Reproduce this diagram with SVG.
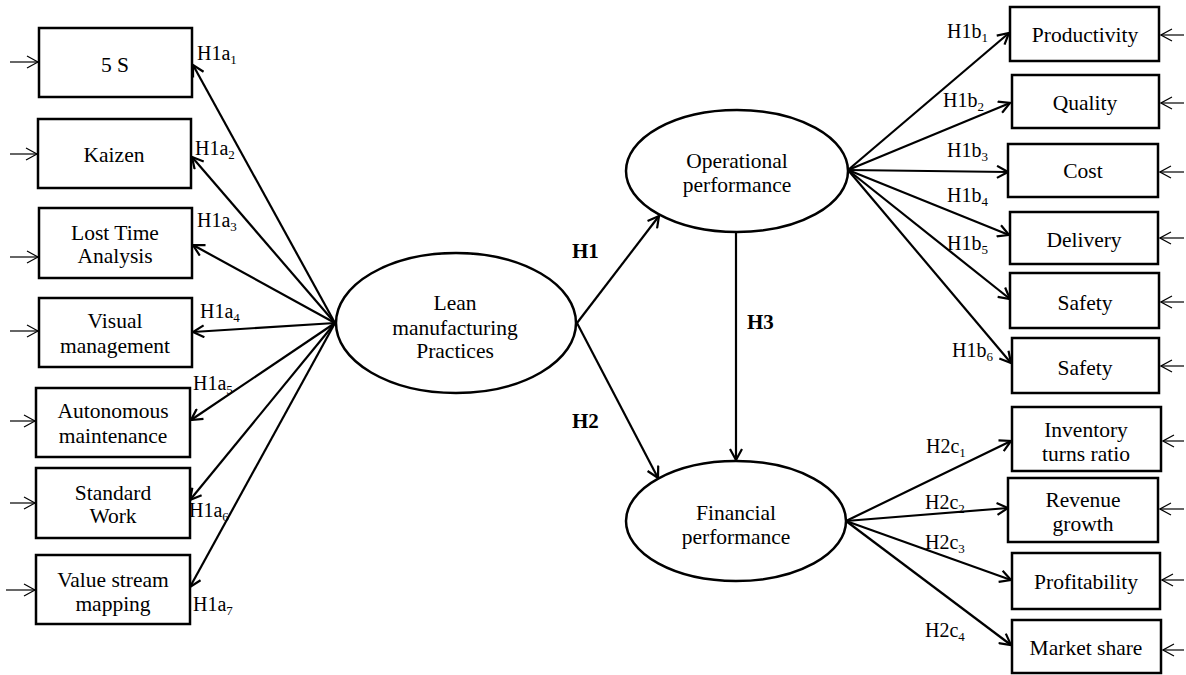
<svg xmlns="http://www.w3.org/2000/svg" width="1186" height="675" viewBox="0 0 1186 675">
<style>
.box{fill:#fff;stroke:#000;stroke-width:2.5}
.ell{fill:#fff;stroke:#000;stroke-width:2.5}
.t{font-family:"Liberation Serif","Times New Roman",serif;font-size:21.5px;fill:#000;text-anchor:middle}
.lb{font-family:"Liberation Serif","Times New Roman",serif;font-size:20px;fill:#000}
.hb{font-family:"Liberation Serif","Times New Roman",serif;font-size:21px;font-weight:bold;fill:#000}
.c{stroke:#000;stroke-width:2.2;fill:none;marker-end:url(#ah)}
.in{stroke:#000;stroke-width:1.2;fill:none;marker-end:url(#ahs)}
</style>
<defs>
<marker id="ah" markerUnits="userSpaceOnUse" markerWidth="14" markerHeight="14" viewBox="-1 -1 13 14" refX="11" refY="6" orient="auto">
<path d="M0,0 L11,6 L0,12" fill="none" stroke="#000" stroke-width="2.2"/>
</marker>
<marker id="ahs" markerUnits="userSpaceOnUse" markerWidth="14" markerHeight="14" viewBox="-1 -1 13 14" refX="11" refY="6" orient="auto">
<path d="M0,0 L11,6 L0,12" fill="none" stroke="#000" stroke-width="1.2"/>
</marker>
</defs>
<rect width="1186" height="675" fill="#fff"/>

<g id="connectors">
<!-- left inputs -->
<line class="in" x1="10" y1="62" x2="38" y2="62"/>
<line class="in" x1="10" y1="154" x2="37" y2="154"/>
<line class="in" x1="10" y1="257" x2="38" y2="257"/>
<line class="in" x1="10" y1="331" x2="38" y2="331"/>
<line class="in" x1="10" y1="421" x2="35" y2="421"/>
<line class="in" x1="10" y1="503" x2="35" y2="503"/>
<line class="in" x1="6" y1="590" x2="35" y2="590"/>
<!-- right inputs -->
<line class="in" x1="1184" y1="35" x2="1161" y2="35"/>
<line class="in" x1="1184" y1="103" x2="1161" y2="103"/>
<line class="in" x1="1184" y1="172" x2="1160" y2="172"/>
<line class="in" x1="1184" y1="238" x2="1160" y2="238"/>
<line class="in" x1="1184" y1="302" x2="1161" y2="302"/>
<line class="in" x1="1184" y1="366" x2="1161" y2="366"/>
<line class="in" x1="1184" y1="441" x2="1163" y2="441"/>
<line class="in" x1="1184" y1="509" x2="1160" y2="509"/>
<line class="in" x1="1184" y1="580" x2="1162" y2="580"/>
<line class="in" x1="1184" y1="650" x2="1163" y2="650"/>
<!-- Lean to indicators -->
<line class="c" x1="335" y1="323" x2="193" y2="65"/>
<line class="c" x1="335" y1="323" x2="192" y2="157"/>
<line class="c" x1="335" y1="323" x2="193" y2="245"/>
<line class="c" x1="335" y1="323" x2="193" y2="332"/>
<line class="c" x1="335" y1="323" x2="191" y2="420"/>
<line class="c" x1="335" y1="323" x2="190" y2="500"/>
<line class="c" x1="335" y1="323" x2="190" y2="587"/>
<!-- structural paths -->
<line class="c" x1="577" y1="323" x2="659" y2="216"/>
<line class="c" x1="577" y1="323" x2="658" y2="478"/>
<line class="c" x1="736" y1="232" x2="736" y2="460"/>
<!-- Operational to indicators -->
<line class="c" x1="848" y1="170" x2="1009" y2="33"/>
<line class="c" x1="848" y1="170" x2="1010" y2="103"/>
<line class="c" x1="848" y1="170" x2="1008" y2="172"/>
<line class="c" x1="848" y1="170" x2="1009" y2="235"/>
<line class="c" x1="848" y1="170" x2="1010" y2="299"/>
<line class="c" x1="848" y1="170" x2="1011" y2="363"/>
<!-- Financial to indicators -->
<line class="c" x1="846" y1="521" x2="1011" y2="441"/>
<line class="c" x1="846" y1="521" x2="1008" y2="508"/>
<line class="c" x1="846" y1="521" x2="1011" y2="580"/>
<line class="c" x1="846" y1="521" x2="1011" y2="645"/>
</g>

<g id="labels">
<text class="lb" x="197" y="60">H1a<tspan font-size="13" dy="4">1</tspan></text>
<text class="lb" x="195" y="155">H1a<tspan font-size="13" dy="4">2</tspan></text>
<text class="lb" x="197" y="227">H1a<tspan font-size="13" dy="4">3</tspan></text>
<text class="lb" x="200" y="318">H1a<tspan font-size="13" dy="4">4</tspan></text>
<text class="lb" x="193" y="390">H1a<tspan font-size="13" dy="4">5</tspan></text>
<text class="lb" x="189" y="517">H1a<tspan font-size="13" dy="4">6</tspan></text>
<text class="lb" x="193" y="611">H1a<tspan font-size="13" dy="4">7</tspan></text>
<text class="lb" x="947" y="38">H1b<tspan font-size="13" dy="4">1</tspan></text>
<text class="lb" x="943" y="107">H1b<tspan font-size="13" dy="4">2</tspan></text>
<text class="lb" x="947" y="157">H1b<tspan font-size="13" dy="4">3</tspan></text>
<text class="lb" x="947" y="202">H1b<tspan font-size="13" dy="4">4</tspan></text>
<text class="lb" x="947" y="250">H1b<tspan font-size="13" dy="4">5</tspan></text>
<text class="lb" x="952" y="357">H1b<tspan font-size="13" dy="4">6</tspan></text>
<text class="lb" x="926" y="453">H2c<tspan font-size="13" dy="4">1</tspan></text>
<text class="lb" x="925" y="509">H2c<tspan font-size="13" dy="4">2</tspan></text>
<text class="lb" x="925" y="549">H2c<tspan font-size="13" dy="4">3</tspan></text>
<text class="lb" x="925" y="637">H2c<tspan font-size="13" dy="4">4</tspan></text>
<text class="hb" x="572" y="258">H1</text>
<text class="hb" x="572" y="428">H2</text>
<text class="hb" x="747" y="329">H3</text>
</g>

<g id="n-5s"><rect class="box" x="39" y="28" width="153" height="69"/><text class="t" x="115" y="72">5 S</text></g>
<g id="n-kaizen"><rect class="box" x="38" y="119" width="153" height="69"/><text class="t" x="114" y="162">Kaizen</text></g>
<g id="n-losttime"><rect class="box" x="39" y="208" width="153" height="70"/><text class="t" x="115" y="240">Lost Time</text><text class="t" x="115" y="263">Analysis</text></g>
<g id="n-visual"><rect class="box" x="39" y="298" width="153" height="69"/><text class="t" x="115" y="328">Visual</text><text class="t" x="115" y="353">management</text></g>
<g id="n-autonomous"><rect class="box" x="36" y="388" width="154" height="69"/><text class="t" x="113" y="418">Autonomous</text><text class="t" x="113" y="443">maintenance</text></g>
<g id="n-standard"><rect class="box" x="36" y="468" width="154" height="70"/><text class="t" x="113" y="500">Standard</text><text class="t" x="113" y="523">Work</text></g>
<g id="n-vsm"><rect class="box" x="36" y="555" width="154" height="69"/><text class="t" x="113" y="587">Value stream</text><text class="t" x="113" y="611">mapping</text></g>

<g id="n-lean"><ellipse class="ell" cx="456" cy="323" rx="120" ry="70"/><text class="t" x="455" y="310">Lean</text><text class="t" x="455" y="335">manufacturing</text><text class="t" x="455" y="358">Practices</text></g>
<g id="n-operational"><ellipse class="ell" cx="737" cy="171" rx="111" ry="61"/><text class="t" x="737" y="168">Operational</text><text class="t" x="737" y="192">performance</text></g>
<g id="n-financial"><ellipse class="ell" cx="736" cy="521" rx="110" ry="60"/><text class="t" x="736" y="520">Financial</text><text class="t" x="736" y="544">performance</text></g>

<g id="n-productivity"><rect class="box" x="1010" y="7" width="149" height="54"/><text class="t" x="1085" y="42">Productivity</text></g>
<g id="n-quality"><rect class="box" x="1012" y="75" width="147" height="53"/><text class="t" x="1085" y="110">Quality</text></g>
<g id="n-cost"><rect class="box" x="1008" y="144" width="150" height="53"/><text class="t" x="1083" y="178">Cost</text></g>
<g id="n-delivery"><rect class="box" x="1010" y="212" width="148" height="52"/><text class="t" x="1084" y="247">Delivery</text></g>
<g id="n-safety1"><rect class="box" x="1010" y="273" width="149" height="55"/><text class="t" x="1085" y="310">Safety</text></g>
<g id="n-safety2"><rect class="box" x="1012" y="338" width="147" height="55"/><text class="t" x="1085" y="375">Safety</text></g>
<g id="n-inventory"><rect class="box" x="1012" y="407" width="149" height="64"/><text class="t" x="1086" y="437">Inventory</text><text class="t" x="1086" y="461">turns ratio</text></g>
<g id="n-revenue"><rect class="box" x="1008" y="478" width="150" height="64"/><text class="t" x="1083" y="507">Revenue</text><text class="t" x="1083" y="531">growth</text></g>
<g id="n-profitability"><rect class="box" x="1012" y="553" width="148" height="56"/><text class="t" x="1086" y="589">Profitability</text></g>
<g id="n-marketshare"><rect class="box" x="1012" y="620" width="149" height="53"/><text class="t" x="1086" y="655">Market share</text></g>
</svg>
